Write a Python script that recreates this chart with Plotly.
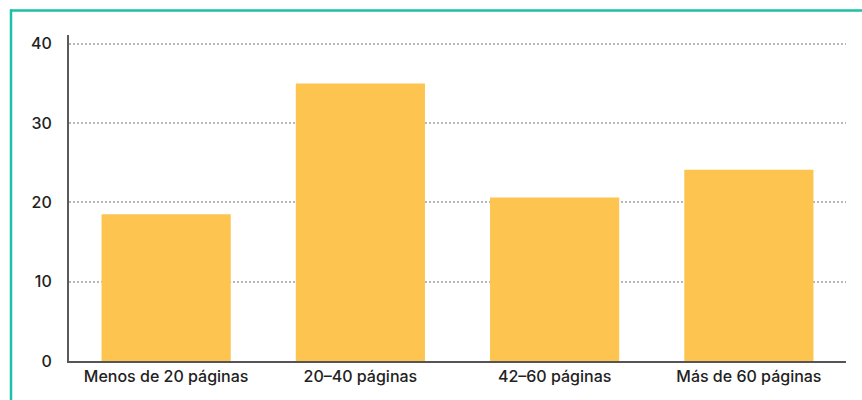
import plotly.graph_objects as go

categories = ["Menos de 20 páginas", "20–40 páginas", "42–60 páginas", "Más de 60 páginas"]
values = [18.5, 35.0, 20.6, 24.1]
y_ticks = [0, 10, 20, 30, 40]

W, H = 862, 400
ml, mr, mt, mb = 69, 16, 35, 39
pw, ph = W - ml - mr, H - mt - mb

def px_x(x):
    return (x - ml) / pw

def px_y(y):
    return (H - mb - y) / ph

fig = go.Figure(go.Bar(
    x=categories, y=values,
    marker=dict(color="#FDC44F", line=dict(width=0)),
    hoverinfo="skip",
))

fig.update_layout(
    width=W, height=H,
    margin=dict(l=ml, r=mr, t=mt, b=mb),
    paper_bgcolor="white", plot_bgcolor="white",
    bargap=0.335,
    showlegend=False,
    font=dict(family="Inter, Roboto, sans-serif", size=16, color="#222", weight=500),
    xaxis=dict(
        showline=True, linecolor="#555", linewidth=2,
        showgrid=False, ticks="", tickfont=dict(size=16, color="#222", weight=500),
        fixedrange=True,
    ),
    yaxis=dict(
        range=[0, 41.1], tickvals=y_ticks, showline=True, linecolor="#5a5a5a", linewidth=2,
        showgrid=True, gridcolor="#b8b8b8", griddash="2px,2px", gridwidth=2,
        zeroline=False, ticks="", ticklabelstandoff=12,
        tickfont=dict(size=16, color="#222", weight=500), fixedrange=True,
    ),
    shapes=[
        dict(type="line", xref="paper", yref="paper",
             x0=px_x(10), x1=px_x(870), y0=px_y(10.5), y1=px_y(10.5),
             line=dict(color="#1DBFA6", width=2.5)),
        dict(type="line", xref="paper", yref="paper",
             x0=px_x(11), x1=px_x(11), y0=px_y(9.5), y1=px_y(410),
             line=dict(color="#1DBFA6", width=2.5)),
    ],
)

fig.write_html(
    "out.html",
    config={"displayModeBar": False, "staticPlot": True},
    post_script="document.body.style.margin='0';document.body.style.overflow='hidden';",
)
